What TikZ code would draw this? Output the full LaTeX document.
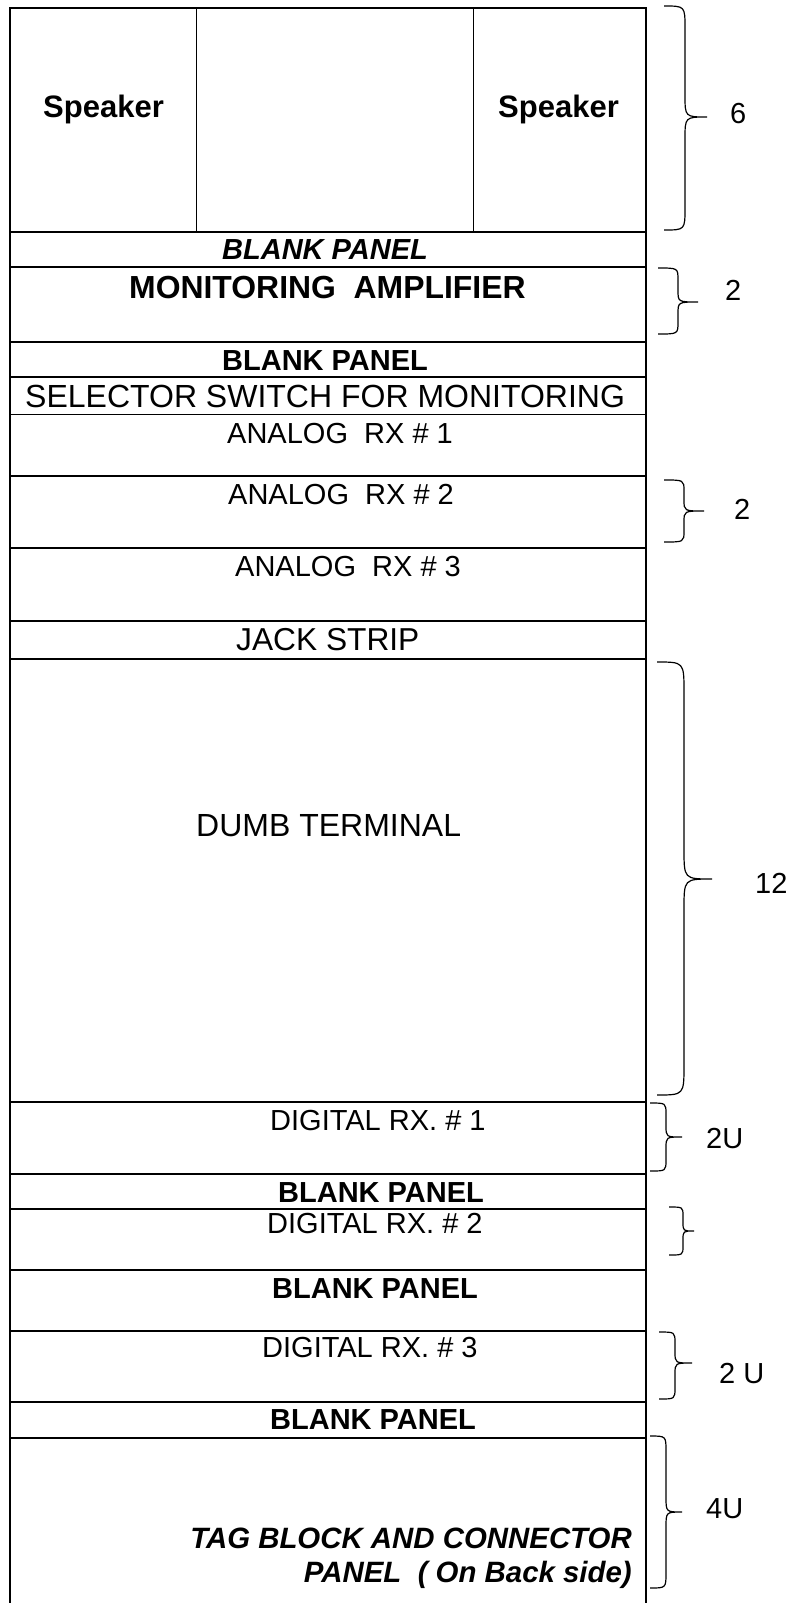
\documentclass[tikz,border=0pt]{standalone}
\usepackage{fontspec}
\setmainfont{Liberation Sans}
\newcommand\rackbrace[7]{%
  \draw[bracestyle] (#1,#4) .. controls (#2,#4) .. (#2,{#4+#7}) -- (#2,{#5-#7})
    .. controls (#2,#5) .. (#3,#5) .. controls (#2,#5) .. (#2,{#5+#7})
    -- (#2,{#6-#7}) .. controls (#2,#6) .. (#1,#6);}
\begin{document}
\begin{tikzpicture}[x=1pt,y=-1pt,
  panel/.style={draw=black,line width=1.5pt,rectangle,inner sep=0pt,outer sep=0pt,anchor=north west,minimum width=636pt},
  divider/.style={line width=1pt},
  bracestyle/.style={line width=1.2pt},
  lbl/.style={inner sep=0pt,anchor=base west},
  lblr/.style={inner sep=0pt,anchor=base east},
  reg/.style={font=\fontsize{29}{34}\selectfont},
  regbig/.style={font=\fontsize{32}{36}\selectfont},
  bld/.style={font=\fontsize{29}{34}\selectfont\bfseries},
  bldbig/.style={font=\fontsize{31}{36}\selectfont\bfseries},
  bldamp/.style={font=\fontsize{31.9}{36}\selectfont\bfseries},
  bldit/.style={font=\fontsize{29}{34}\selectfont\bfseries\itshape},
  blditt/.style={font=\fontsize{29.4}{34}\selectfont\bfseries\itshape}]
\useasboundingbox (0,0) rectangle (795,1603);
% panels
\node[panel,minimum height=224pt] (p1) at (10,8) {};
\node[panel,minimum height=35pt] (p2) at (10,232) {};
\node[panel,minimum height=75pt] (p3) at (10,267) {};
\node[panel,minimum height=35pt] (p4) at (10,342) {};
\node[panel,minimum height=37.5pt] (p5) at (10,377) {};
\node[panel,minimum height=61.5pt] (p6) at (10,414.5) {};
\node[panel,minimum height=72pt] (p7) at (10,476) {};
\node[panel,minimum height=73pt] (p8) at (10,548) {};
\node[panel,minimum height=38pt] (p9) at (10,621) {};
\node[panel,minimum height=443pt] (p10) at (10,659) {};
\node[panel,minimum height=72pt] (p11) at (10,1102) {};
\node[panel,minimum height=35pt] (p12) at (10,1174) {};
\node[panel,minimum height=61pt] (p13) at (10,1209) {};
\node[panel,minimum height=61pt] (p14) at (10,1270) {};
\node[panel,minimum height=71pt] (p15) at (10,1331) {};
\node[panel,minimum height=36pt] (p16) at (10,1402) {};
\draw[line width=1.5pt] (10,1603) -- (10,1438) -- (646,1438) -- (646,1603);
% speaker dividers
\draw[divider] (196,8) -- (196,232);
\draw[divider] (473,8) -- (473,232);
% texts
\node[lbl,bldbig] (spkL) at (43,117) {Speaker};
\node[lbl,bldbig] (spkR) at (498,117) {Speaker};
\node[lbl,bldit] (bp1) at (222,259) {BLANK PANEL};
\node[lbl,bldamp] (amp) at (129,298) {MONITORING\ \ AMPLIFIER};
\node[lbl,bld] (bp2) at (222,370) {BLANK PANEL};
\node[lbl,regbig] (sel) at (25,407) {SELECTOR SWITCH FOR MONITORING};
\node[lbl,reg] (an1) at (227,443) {ANALOG\ \ RX \# 1};
\node[lbl,reg] (an2) at (228,504) {ANALOG\ \ RX \# 2};
\node[lbl,reg] (an3) at (235,576) {ANALOG\ \ RX \# 3};
\node[lbl,font=\fontsize{31.7}{36}\selectfont] (jack) at (236,650) {JACK STRIP};
\node[lbl,font=\fontsize{32}{36}\selectfont] (dumb) at (196,836) {DUMB TERMINAL};
\node[lbl,reg] (dg1) at (270,1130) {DIGITAL RX. \# 1};
\node[lbl,bld] (bp3) at (278,1202) {BLANK PANEL};
\node[lbl,reg] (dg2) at (267,1233) {DIGITAL RX. \# 2};
\node[lbl,bld] (bp4) at (272,1298) {BLANK PANEL};
\node[lbl,reg] (dg3) at (262,1357) {DIGITAL RX. \# 3};
\node[lbl,bld] (bp5) at (270,1429) {BLANK PANEL};
\node[lblr,blditt] (tag1) at (632,1548) {TAG BLOCK AND CONNECTOR};
\node[lblr,blditt] (tag2) at (632,1582) {PANEL\ \ ( On Back side)};
% braces
\rackbrace{664}{685}{707}{6}{117}{230}{22}
\rackbrace{658}{678}{698}{268}{302}{334}{12}
\rackbrace{664}{684}{704}{480}{511}{542}{11}
\rackbrace{657}{684}{712}{662}{879}{1095}{30}
\rackbrace{650}{666}{682}{1103}{1137}{1171}{11}
\rackbrace{669}{683}{694}{1207}{1231}{1255}{9}
\rackbrace{659}{675}{692}{1332}{1363}{1399}{11}
\rackbrace{650}{666}{682}{1436}{1512}{1588}{15}
% brace labels
\node[lbl,reg] (n6) at (730,123) {6};
\node[lbl,reg] (n2a) at (725,300) {2};
\node[lbl,reg] (n2b) at (734,519) {2};
\node[lbl,reg] (n12) at (755,893) {12};
\node[lbl,reg] (n2u) at (706,1148) {2U};
\node[lbl,reg] (n2u2) at (719,1383) {2 U};
\node[lbl,reg] (n4u) at (706,1518) {4U};
\end{tikzpicture}
\end{document}
